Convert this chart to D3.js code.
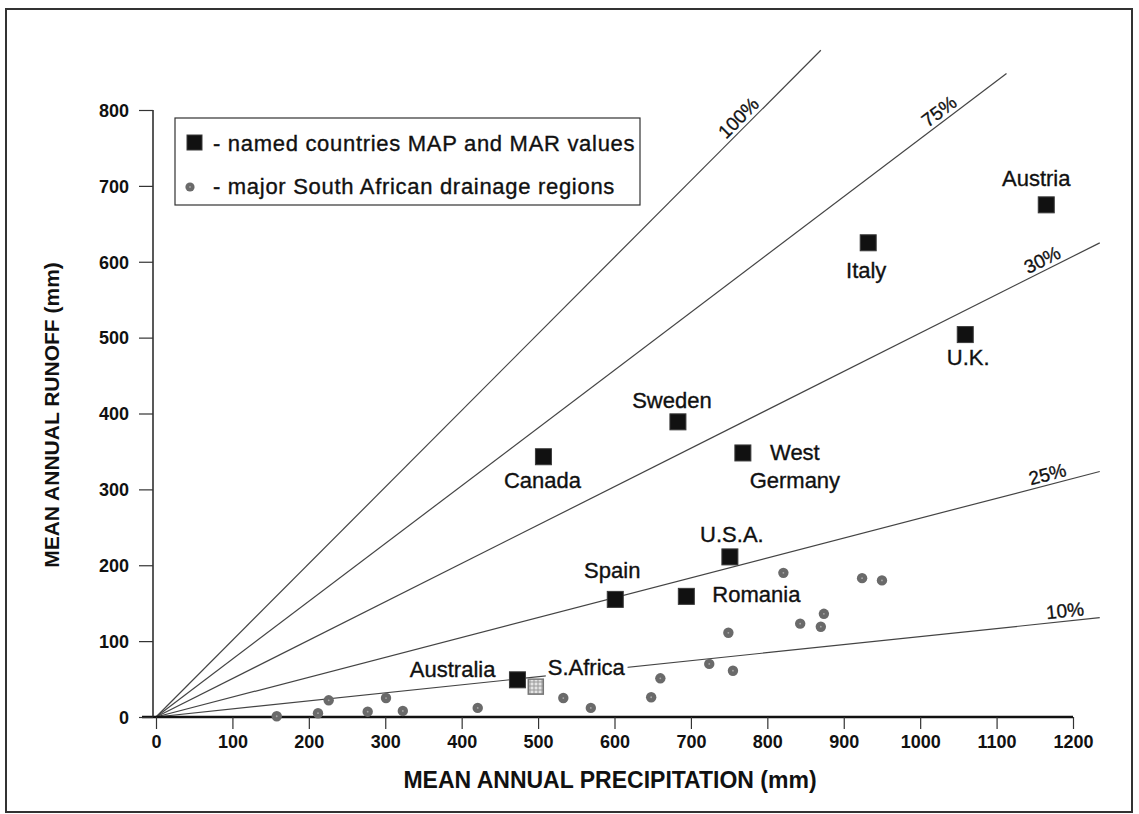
<!doctype html>
<html>
<head>
<meta charset="utf-8">
<style>
	body {
		margin: 0;
		background: #fff;
	}
	svg text {
		font-family: "Liberation Sans", Arial, sans-serif;
		fill: #111;
	}
	.tick-y text, .tick-x text {
		font-weight: bold;
		font-size: 18px;
	}
	.axis-title {
		font-weight: bold;
		font-size: 21px;
	}
	.ratio-line {
		fill: none;
		stroke: #444;
		stroke-width: 1.2px;
	}
	.ratio-label {
		font-size: 19px;
		stroke: #111;
		stroke-width: 0.3px;
	}
	.country-label {
		font-size: 22px;
		stroke: #111;
		stroke-width: 0.35px;
	}
	.legend-text {
		font-size: 22px;
		letter-spacing: 0.7px;
		stroke: #111;
		stroke-width: 0.35px;
	}
	.region {
		fill: #6a6a6a;
	}
	.country {
		fill: #111;
		stroke: #3a3a3a;
		stroke-width: 1px;
	}
</style>
<script src="https://d3js.org/d3.v7.min.js"></script>
</head>
<body>
<div id="canvas"></div>
<script>
	// axis ticks
	var x_ticks = [0, 100, 200, 300, 400, 500, 600, 700, 800, 900, 1000, 1100, 1200];
	var y_ticks = [0, 100, 200, 300, 400, 500, 600, 700, 800];

	// runoff ratio lines (label, slope, where each line stops)
	var ratio_labels = ["100%", "75%", "30%", "25%", "10%"];
	var ratio_slopes = [1.01, 0.762, 0.506, 0.262, 0.106];
	var ratio_end_map = [870, 1113, 1235, 1235, 1235];

	// named countries: MAP (mm) and MAR (mm)
	var country_names = ["Austria", "Italy", "U.K.", "Sweden", "West Germany", "Canada",
		"U.S.A.", "Spain", "Romania", "Australia"];
	var country_map = [1165, 932, 1059, 683, 768, 507, 751, 601, 694, 473];
	var country_mar = [675, 625, 504, 389, 348, 343, 211, 155, 159, 49];

	// South Africa as a whole
	var sa_map = 497,
		sa_mar = 40;

	// major South African drainage regions
	var region_map = [158, 212, 226, 277, 301, 323, 421, 533, 569, 648,
		660, 724, 755, 749, 821, 843, 870, 874, 924, 950];
	var region_mar = [1, 5, 22, 7, 25, 8, 12, 25, 12, 26,
		51, 70, 61, 111, 190, 123, 119, 136, 183, 180];

	var width = 1139,
		height = 814;

	var scale_x = d3.scaleLinear().domain([0, 1200]).range([156, 1073]);
	var scale_y = d3.scaleLinear().domain([0, 800]).range([717, 110]);

	var svg = d3.select("#canvas")
		.append("svg")
		.attr("width", width)
		.attr("height", height);

	var defs = svg.append("defs");
	var hatch = defs.append("pattern")
		.attr("id", "hatch")
		.attr("patternUnits", "userSpaceOnUse")
		.attr("width", 4)
		.attr("height", 4);
	hatch.append("rect").attr("width", 4).attr("height", 4).attr("fill", "#e4e4e4");
	hatch.append("path").attr("d", "M0,2H4M2,0V4").attr("stroke", "#9a9a9a").attr("stroke-width", 1);

	// outer frame
	svg.append("rect")
		.attr("x", 6).attr("y", 9)
		.attr("width", 1126).attr("height", 803)
		.attr("fill", "none")
		.attr("stroke", "#333")
		.attr("stroke-width", 2);

	// ratio lines
	var ratio_data = ratio_labels.map((d, i) => ({label: d, slope: ratio_slopes[i], end: ratio_end_map[i]}));
	var label_at = [772, 1033, 1166, 1170, 1191];

	svg.selectAll(".ratio-line")
		.data(ratio_data)
	  .enter().append("line")
		.attr("class", "ratio-line")
		.attr("x1", scale_x(0))
		.attr("y1", scale_y(0))
		.attr("x2", d => scale_x(d.end))
		.attr("y2", d => scale_y(d.slope * d.end));

	svg.selectAll(".ratio-label")
		.data(ratio_data)
	  .enter().append("text")
		.attr("class", "ratio-label")
		.attr("text-anchor", "middle")
		.attr("transform", function(d, i) {
			var px = scale_x(label_at[i]),
				py = scale_y(d.slope * label_at[i]);
			var ang = Math.atan2(scale_y(d.slope * 100) - scale_y(0), scale_x(100) - scale_x(0)) * 180 / Math.PI;
			return `translate(${px},${py}) rotate(${ang}) translate(0,-4)`;
		})
		.text(d => d.label);

	// axes
	var axis_x = d3.axisBottom(scale_x).tickValues(x_ticks).tickSize(12).tickPadding(6).tickFormat(d3.format("d"));
	var axis_y = d3.axisLeft(scale_y).tickValues(y_ticks).tickSize(14).tickPadding(10).tickFormat(d3.format("d"));

	var gx = svg.append("g")
		.attr("class", "tick-x")
		.attr("transform", `translate(0, ${scale_y(0)})`)
		.call(axis_x);
	gx.select(".domain").attr("stroke", "#111").attr("stroke-width", 2.5).attr("d", `M${scale_x(0) - 14},0H${scale_x(1200)}`);
	gx.selectAll(".tick line").attr("stroke", "#333").attr("stroke-width", 1.2);

	var gy = svg.append("g")
		.attr("class", "tick-y")
		.attr("transform", `translate(${scale_x(0) - 3}, 0)`)
		.call(axis_y);
	gy.select(".domain").attr("stroke", "#222").attr("stroke-width", 1.5).attr("d", `M0,${scale_y(800)}V${scale_y(0)}`);
	gy.selectAll(".tick line").attr("stroke", "#333").attr("stroke-width", 1.2);
	gy.selectAll(".tick text").attr("dy", "0.35em");

	svg.append("text")
		.attr("class", "axis-title")
		.attr("x", 610)
		.attr("y", 788)
		.attr("text-anchor", "middle")
		.style("font-size", "23px")
		.text("MEAN ANNUAL PRECIPITATION (mm)");

	svg.append("text")
		.attr("class", "axis-title")
		.attr("transform", "translate(59, 415) rotate(-90)")
		.attr("text-anchor", "middle")
		.text("MEAN ANNUAL RUNOFF (mm)");

	// drainage regions
	var regions = region_map.map((d, i) => ({map: d, mar: region_mar[i]}));
	var rg = svg.selectAll(".region-g")
		.data(regions)
	  .enter().append("g")
		.attr("transform", d => `translate(${scale_x(d.map)},${scale_y(d.mar)})`);
	rg.append("circle").attr("class", "region").attr("r", 5.2);
	rg.append("circle").attr("r", 0.9).attr("fill", "#a8a8a8");

	// named countries
	var countries = country_names.map((d, i) => ({name: d, map: country_map[i], mar: country_mar[i]}));
	svg.selectAll(".country")
		.data(countries)
	  .enter().append("rect")
		.attr("class", "country")
		.attr("x", d => scale_x(d.map) - 8)
		.attr("y", d => scale_y(d.mar) - 8)
		.attr("width", 16)
		.attr("height", 16);

	// S.Africa marker
	svg.append("rect")
		.attr("x", scale_x(sa_map) - 7.5)
		.attr("y", scale_y(sa_mar) - 7.5)
		.attr("width", 15)
		.attr("height", 15)
		.attr("fill", "url(#hatch)")
		.attr("stroke", "#777")
		.attr("stroke-width", 1.5);

	// label placement relative to each marker
	var label_pos = {
		"Austria": {dx: -10, dy: -19, anchor: "middle"},
		"Italy": {dx: -2, dy: 35, anchor: "middle"},
		"U.K.": {dx: 3, dy: 30, anchor: "middle"},
		"Sweden": {dx: -6, dy: -14, anchor: "middle"},
		"West Germany": {dx: 52, dy: 7, anchor: "middle"},
		"Canada": {dx: -1, dy: 31, anchor: "middle"},
		"U.S.A.": {dx: 2, dy: -15, anchor: "middle"},
		"Spain": {dx: -3, dy: -21, anchor: "middle"},
		"Romania": {dx: 26, dy: 6, anchor: "start"},
		"Australia": {dx: -22, dy: -3, anchor: "end"}
	};

	countries.forEach(function(d) {
		var p = label_pos[d.name];
		var t = svg.append("text")
			.attr("class", "country-label")
			.attr("text-anchor", p.anchor)
			.attr("x", scale_x(d.map) + p.dx)
			.attr("y", scale_y(d.mar) + p.dy);
		if (d.name === "West Germany") {
			t.append("tspan").attr("x", scale_x(d.map) + p.dx).text("West");
			t.append("tspan").attr("x", scale_x(d.map) + p.dx).attr("dy", 28).text("Germany");
		} else {
			t.text(d.name);
		}
	});

	var sa_label = svg.append("text")
		.attr("class", "country-label")
		.attr("x", scale_x(sa_map) + 12)
		.attr("y", scale_y(sa_mar) - 12)
		.text("S.Africa");
	var bb = sa_label.node().getBBox();
	svg.insert("rect", function() { return sa_label.node(); })
		.attr("x", bb.x - 2).attr("y", bb.y + 2)
		.attr("width", bb.width + 4).attr("height", bb.height - 4)
		.attr("fill", "#fff");

	// legend
	var lg = svg.append("g");
	lg.append("rect")
		.attr("x", 175).attr("y", 118)
		.attr("width", 465).attr("height", 87)
		.attr("fill", "#fff")
		.attr("stroke", "#333")
		.attr("stroke-width", 1.2);
	lg.append("rect")
		.attr("class", "country")
		.attr("x", 187).attr("y", 135)
		.attr("width", 15).attr("height", 15);
	lg.append("text")
		.attr("class", "legend-text")
		.attr("x", 213).attr("y", 151)
		.text("- named countries MAP and MAR values");
	lg.append("circle").attr("class", "region").attr("cx", 190).attr("cy", 187).attr("r", 4.6);
	lg.append("circle").attr("cx", 190).attr("cy", 187).attr("r", 0.9).attr("fill", "#a8a8a8");
	lg.append("text")
		.attr("class", "legend-text")
		.attr("x", 213).attr("y", 194)
		.text("- major South African drainage regions");
</script>
</body>
</html>
